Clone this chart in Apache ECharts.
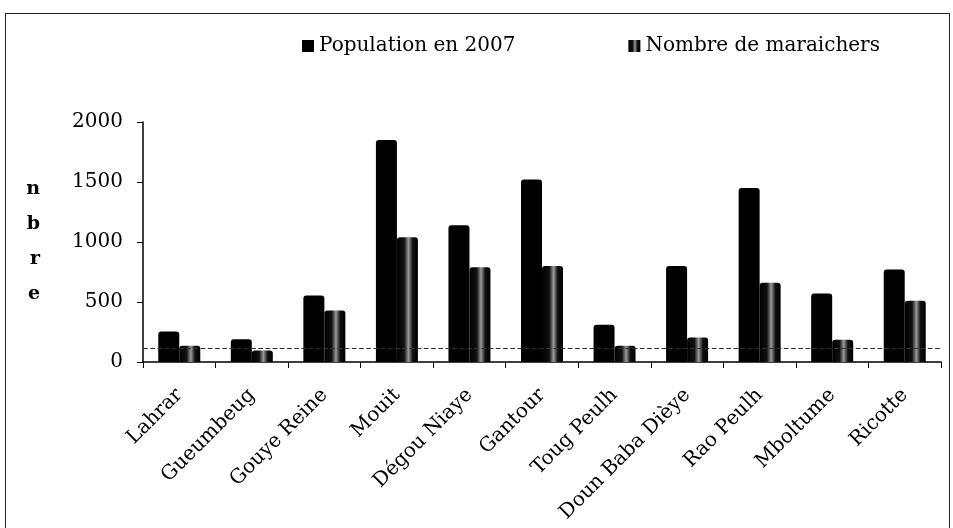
<!DOCTYPE html>
<html><head><meta charset="utf-8">
<script src="https://cdn.jsdelivr.net/npm/echarts@6/dist/echarts.min.js"></script>
<style>
html,body{margin:0;padding:0;background:#fff;}
#c{position:absolute;left:0;top:0;width:953px;height:528px;}
#frame{position:absolute;left:5px;top:13px;width:943px;height:530px;border:1.5px solid #222;pointer-events:none;}
</style></head>
<body>
<div id="c"></div><div id="frame"></div>
<script>
const categories = ['Lahrar','Gueumbeug','Gouye Reine','Mouit','Dégou Niaye','Gantour','Toug Peulh','Doun Baba Dièye','Rao Peulh','Mboltume','Ricotte'];
const population2007 = [255, 190, 555, 1850, 1140, 1520, 310, 800, 1450, 570, 770];
const maraichers = [135, 95, 430, 1040, 790, 800, 135, 205, 660, 185, 510];
const yTicks = [0, 500, 1000, 1500, 2000];
const floorLevel = 115;

const chart = echarts.init(document.getElementById('c'));
const serif = 'DejaVu Serif';
chart.setOption({
  animation: false,
  backgroundColor: '#fff',
  legend: {
    left: 297, top: 31, itemWidth: 12, itemHeight: 12, itemGap: 113, icon: 'rect',
    textStyle: {fontFamily: serif, fontSize: 20, color: '#000'},
    data: ['Population en 2007', 'Nombre de maraichers']
  },
  grid: {left: 143, right: 12, top: 122, bottom: 166, containLabel: false},
  xAxis: {
    type: 'category', data: categories,
    axisLine: {lineStyle: {color: '#000', width: 1.5}},
    axisTick: {show: true, length: 6, lineStyle: {color: '#000'}},
    axisLabel: {rotate: 45, margin: 30, fontFamily: serif, fontSize: 20, color: '#000', interval: 0}
  },
  yAxis: {
    type: 'value', min: 0, max: 2000, interval: 500,
    name: 'n\nb\nr\ne', nameLocation: 'middle', nameRotate: 0, nameGap: 103,
    nameTextStyle: {fontFamily: serif, fontWeight: 'bold', fontSize: 19, lineHeight: 35, color: '#000'},
    axisLine: {show: true, lineStyle: {color: '#000', width: 1.5}},
    axisTick: {show: true, length: 6, lineStyle: {color: '#000'}},
    splitLine: {show: false},
    axisLabel: {margin: 20, fontFamily: serif, fontSize: 20, color: '#000',
      formatter: v => yTicks.includes(v) ? String(v) : ''}
  },
  series: [
    {
      name: 'floor', type: 'line', data: [], z: 1, silent: true,
      markLine: {symbol: 'none', silent: true, label: {show: false},
        lineStyle: {color: '#333', type: 'dashed', width: 1.2},
        data: [{yAxis: floorLevel}]}
    },
    {
      name: 'Population en 2007', type: 'bar', data: population2007, z: 3,
      barWidth: 21, barGap: '0%',
      itemStyle: {color: '#000', borderRadius: [3,3,0,0]}
    },
    {
      name: 'Nombre de maraichers', type: 'bar', data: maraichers, z: 2,
      barWidth: 21,
      itemStyle: {
        borderRadius: [3,3,0,0],
        color: new echarts.graphic.LinearGradient(0,0,1,0,[
          {offset:0, color:'#000'},{offset:0.35, color:'#111'},
          {offset:0.55, color:'#9a9a9a'},{offset:0.75, color:'#111'},{offset:1, color:'#000'}])
      }
    }
  ]
});
</script>
</body></html>
